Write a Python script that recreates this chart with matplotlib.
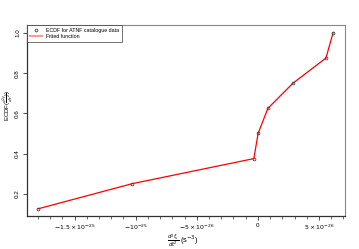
import matplotlib
matplotlib.use("Agg")
import matplotlib.pyplot as plt
from matplotlib.ticker import FixedLocator

plt.rcParams['font.family'] = ['Liberation Sans', 'DejaVu Sans']
plt.rcParams['mathtext.fontset'] = 'dejavusans'

# ECDF of second frequency derivative
x_vals = [-1.80e-25, -1.03e-25, -3.3e-27, 2.0e-28, 8.2e-27, 2.87e-26, 5.57e-26, 6.15e-26]
ecdf = [0.125, 0.25, 0.375, 0.5, 0.625, 0.75, 0.875, 1.0]

xticks = [-1.5e-25, -1e-25, -5e-26, 0, 5e-26]
xticklabels = [r'$-1.5\times10^{-25}$', r'$-10^{-25}$', r'$-5\times10^{-26}$', '0', r'$5\times10^{-26}$']
yticks = [0.2, 0.4, 0.6, 0.8, 1.0]

fig = plt.figure(figsize=(3.59, 2.49), dpi=100)
ax = fig.add_axes([0.075, 0.133, 0.886, 0.767])

ax.plot(x_vals, ecdf, color='red', lw=0.9, label='Fitted function', zorder=2)
ax.plot(x_vals, ecdf, ls='none', marker='o', ms=2, mfc='none', mec='#444444', mew=0.6,
        label='ECDF for ATNF catalogue data', zorder=3)

ax.set_xlim(-1.89e-25, 7.13e-26)
ax.set_ylim(0.09, 1.04)

ax.xaxis.set_major_locator(FixedLocator(xticks))
ax.set_xticklabels(xticklabels)
ax.xaxis.set_minor_locator(FixedLocator([i * 1e-26 for i in range(-18, 8)]))
ax.set_yticks(yticks)
ax.set_yticklabels(['0.2', '0.4', '0.6', '0.8', '1.0'], rotation=90, va='center')

ax.tick_params(axis='both', which='major', labelsize=4.5, length=3, width=0.6, color='#333333', pad=2)
ax.tick_params(axis='x', which='minor', length=1.8, width=0.5, color='#333333')
ax.tick_params(axis='y', which='minor', length=0)

for s in ['left', 'bottom']:
    ax.spines[s].set_color('#333333')
    ax.spines[s].set_linewidth(0.9)
for s in ['top', 'right']:
    ax.spines[s].set_color('#888888')
    ax.spines[s].set_linewidth(0.8)

ax.set_xlabel(r'$\frac{d^2 f_s}{dt^2}$ (s$^{-3}$)', fontsize=5.4, va='center')
ax.xaxis.set_label_coords(0.49, -0.132)
ax.set_ylabel(r'ECDF($\frac{d^2 f_s}{dt^2}$)', fontsize=4.4, va='center')
ax.yaxis.set_label_coords(-0.059, 0.58)

h, l = ax.get_legend_handles_labels()
leg = ax.legend(h[::-1], l[::-1], loc='upper left', fontsize=3.8, frameon=True, fancybox=False,
                borderaxespad=0, handlelength=2.3, borderpad=0.5, labelspacing=0.3)
leg.get_frame().set_edgecolor('#333333')
leg.get_frame().set_linewidth(0.6)
leg.legend_handles[1].set_alpha(0.4)
leg.legend_handles[1].set_linewidth(1.5)

fig.savefig('out.png', dpi=100)
